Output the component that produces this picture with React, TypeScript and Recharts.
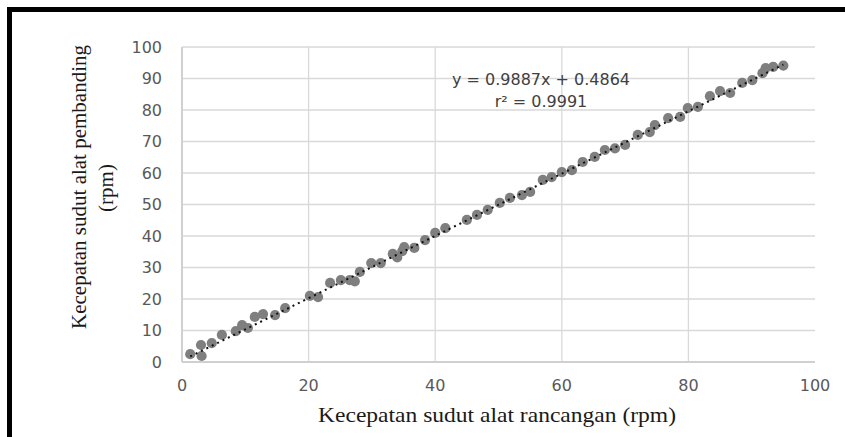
import React from 'react';
import { ScatterChart, Scatter, XAxis, YAxis, CartesianGrid } from 'recharts';

// Kecepatan sudut alat rancangan (rpm)
const speedDesign = [
  1.3, 3.0, 3.1, 4.7, 6.3, 8.5, 9.5, 10.4, 11.5, 12.8,
  14.7, 16.3, 20.2, 21.5, 23.4, 25.1, 26.5, 27.3, 28.1, 29.9,
  31.4, 33.3, 34.0, 34.8, 35.1, 36.7, 38.4, 40.0, 41.6, 45.0,
  46.6, 48.3, 50.2, 51.8, 53.7, 55.0, 57.0, 58.4, 60.0, 61.6,
  63.3, 65.2, 66.8, 68.4, 70.0, 72.0, 73.9, 74.7, 76.8, 78.7,
  79.9, 81.5, 83.4, 85.0, 86.6, 88.5, 90.1, 91.7, 92.2, 93.4,
  95.0,
];
// Kecepatan sudut alat pembanding (rpm)
const speedReference = [
  2.5, 5.4, 1.9, 6.0, 8.6, 9.8, 11.7, 10.8, 14.3, 15.2,
  14.9, 17.1, 21.0, 20.6, 25.1, 26.0, 26.0, 25.6, 28.6, 31.4,
  31.4, 34.3, 33.2, 35.2, 36.5, 36.2, 38.7, 41.0, 42.5, 45.1,
  46.7, 48.3, 50.5, 52.1, 53.0, 54.0, 57.8, 58.7, 60.3, 60.9,
  63.5, 65.1, 67.3, 67.8, 68.9, 72.1, 73.0, 75.2, 77.4, 77.8,
  80.6, 81.0, 84.4, 86.0, 85.4, 88.6, 89.5, 91.7, 93.3, 93.7,
  94.1,
];
// Linear trendline endpoints (y = 0.9887x + 0.4864)
const trendX = [1.3, 95.0];
const trendY = [1.77, 94.41];

const xTicks = [0, 20, 40, 60, 80, 100];
const yTicks = [0, 10, 20, 30, 40, 50, 60, 70, 80, 90, 100];
const gridX = [20, 40, 60, 80];

const equationLine = 'y = 0.9887x + 0.4864';
const r2Line = 'r² = 0.9991';
const xTitle = 'Kecepatan sudut alat rancangan (rpm)';
const yTitle1 = 'Kecepatan sudut alat pembanding';
const yTitle2 = '(rpm)';

const points = speedDesign.map((x, i) => ({ x, y: speedReference[i] }));
const trend = trendX.map((x, i) => ({ x, y: trendY[i] }));

const serif = '"Liberation Serif", "Times New Roman", serif';
const sans = '"DejaVu Sans", sans-serif';

const XTitle = () => (
  <text
    x={485}
    y={410}
    textAnchor="middle"
    fontFamily={serif}
    fontSize={21}
    fill="#1a1a1a"
    textLength={358}
    lengthAdjust="spacingAndGlyphs"
  >
    {xTitle}
  </text>
);

const YTitle = () => (
  <g>
    <text
      transform="translate(73.5,175) rotate(-90)"
      textAnchor="middle"
      fontFamily={serif}
      fontSize={21}
      fill="#1a1a1a"
    >
      {yTitle1}
    </text>
    <text
      transform="translate(101,176) rotate(-90)"
      textAnchor="middle"
      fontFamily={serif}
      fontSize={21}
      fill="#1a1a1a"
    >
      {yTitle2}
    </text>
  </g>
);

const Dot = (p: any) => <circle cx={p.cx} cy={p.cy} r={5.1} fill="#7f7f7f" />;
const NoDot = () => <g />;

export default function App() {
  return (
    <div
      style={{
        position: 'fixed',
        left: 7,
        top: 7,
        width: 838,
        height: 430,
        borderLeft: '5px solid #000',
        borderTop: '5px solid #000',
        boxSizing: 'border-box',
        background: '#fff',
      }}
    >
      <ScatterChart
        width={833}
        height={425}
        margin={{ top: 35, right: 30, left: 0, bottom: 0 }}
      >
        <CartesianGrid
          stroke="#d9d9d9"
          strokeWidth={1.3}
          verticalValues={gridX}
        />
        <XAxis
          type="number"
          dataKey="x"
          domain={[0, 100]}
          ticks={xTicks}
          height={75}
          tickLine={false}
          tickSize={8}
          tickMargin={10}
          axisLine={{ stroke: '#d0d0d0', strokeWidth: 2 }}
          tick={{ fontFamily: sans, fontSize: 16, fill: '#595959' }}
          label={<XTitle />}
        />
        <YAxis
          type="number"
          dataKey="y"
          domain={[0, 100]}
          ticks={yTicks}
          width={170}
          tickLine={false}
          tickSize={8}
          tickMargin={12}
          axisLine={{ stroke: '#d0d0d0', strokeWidth: 2 }}
          tick={{ fontFamily: sans, fontSize: 16, fill: '#595959' }}
          label={<YTitle />}
        />
        <Scatter data={points} shape={Dot} isAnimationActive={false} />
        <Scatter
          data={trend}
          shape={NoDot}
          line={{ stroke: '#111', strokeWidth: 2, strokeDasharray: '2 4' }}
          lineType="joint"
          isAnimationActive={false}
        />
      </ScatterChart>
      <div
        style={{
          position: 'absolute',
          left: 429,
          top: 57,
          width: 200,
          textAlign: 'center',
          fontFamily: sans,
          fontSize: 16,
          lineHeight: '22px',
          color: '#404040',
        }}
      >
        <div>{equationLine}</div>
        <div>{r2Line}</div>
      </div>
    </div>
  );
}
